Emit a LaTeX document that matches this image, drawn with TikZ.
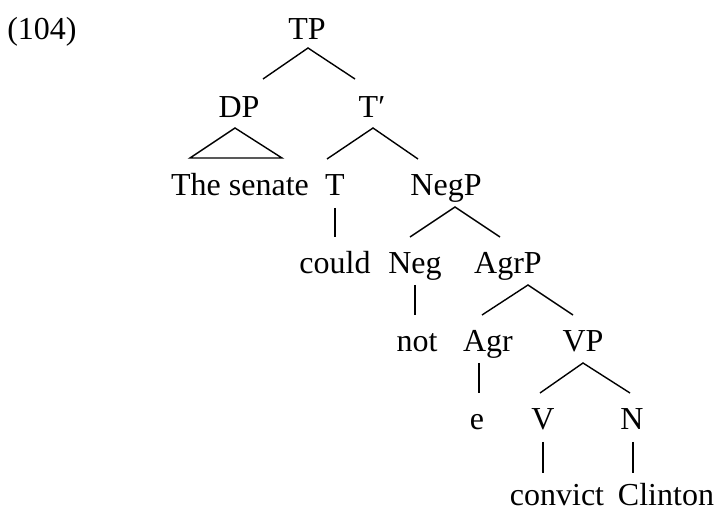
\documentclass[tikz,border=0pt]{standalone}
\usepackage{fontspec}
\setmainfont{Liberation Serif}
\usetikzlibrary{calc}
\begin{document}
\begin{tikzpicture}[x=1pt,y=1pt,
  lbl/.style={anchor=base,inner sep=0pt,font=\fontsize{32}{38}\selectfont},
  branch/.style={line width=1.4pt}]
\useasboundingbox (0,0) rectangle (721,512);
% example number
\node[lbl] (ex) at (42,472) {(104)};
% labels, row by row
\node[lbl] (TP) at (307,472) {TP};
\node[lbl] (DP) at (239,394) {DP};
\node[lbl] (Tbar) at (372,394) {T′};
\node[lbl] (senate) at (240,316) {The senate};
\node[lbl] (T) at (335,316) {T};
\node[lbl] (NegP) at (446,316) {NegP};
\node[lbl] (could) at (335,238) {could};
\node[lbl] (Neg) at (415,238) {Neg};
\node[lbl] (AgrP) at (508,238) {AgrP};
\node[lbl] (not) at (417,160) {not};
\node[lbl] (Agr) at (488,160) {Agr};
\node[lbl] (VP) at (583,160) {VP};
\node[lbl] (e) at (477,82) {e};
\node[lbl] (V) at (543,82) {V};
\node[lbl] (N) at (632,82) {N};
\node[lbl] (convict) at (557,7) {convict};
\node[lbl] (Clinton) at (666,7) {Clinton};
% branches
\draw[branch] ($(DP.base)+(24,39)$) -- ($(TP.base)+(1,-8)$) -- ($(Tbar.base)+(-17,39)$);
\draw[branch] ($(DP.base)+(-4,-10)$) -- ($(senate.base)+(-50,38)$) -- ($(senate.base)+(42,38)$) -- cycle;
\draw[branch] ($(T.base)+(-8,37)$) -- ($(Tbar.base)+(1,-10)$) -- ($(NegP.base)+(-28,37)$);
\draw[branch] ($(T.base)+(0,-12)$) -- ($(could.base)+(0,37)$);
\draw[branch] ($(Neg.base)+(-5,37)$) -- ($(NegP.base)+(9,-11)$) -- ($(AgrP.base)+(-8,37)$);
\draw[branch] ($(Neg.base)+(0,-11)$) -- ($(not.base)+(-2,37)$);
\draw[branch] ($(Agr.base)+(-6,37)$) -- ($(AgrP.base)+(20,-11)$) -- ($(VP.base)+(-10,37)$);
\draw[branch] ($(Agr.base)+(-9,-11)$) -- ($(e.base)+(2,37)$);
\draw[branch] ($(V.base)+(-3,37)$) -- ($(VP.base)+(0,-11)$) -- ($(N.base)+(-2,37)$);
\draw[branch] ($(V.base)+(0,-12)$) -- ($(convict.base)+(-14,32)$);
\draw[branch] ($(N.base)+(1,-12)$) -- ($(Clinton.base)+(-33,32)$);
\end{tikzpicture}
\end{document}
